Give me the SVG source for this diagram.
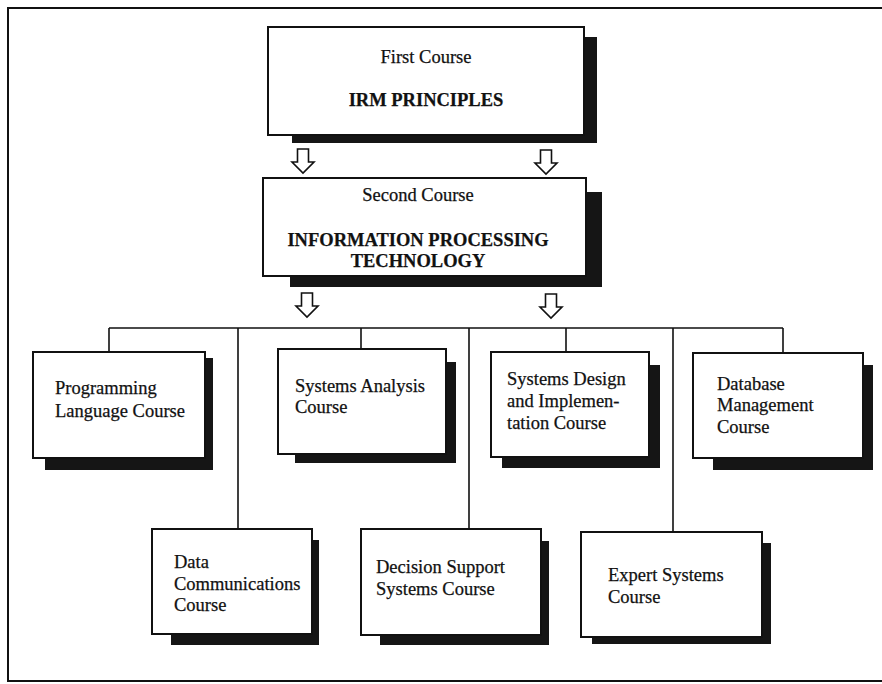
<svg xmlns="http://www.w3.org/2000/svg" xmlns:xlink="http://www.w3.org/1999/xlink" width="882" height="684" viewBox="0 0 882 684">
<style>
.box{fill:#fff;stroke:#111;stroke-width:2}
.sh{fill:#151515}
.ln{stroke:#111;stroke-width:1.6;fill:none}
.arr{fill:#fff;stroke:#111;stroke-width:1.6;stroke-linejoin:miter}
.t{font-family:"Liberation Serif","Times New Roman",serif;font-size:18.5px;fill:#111;stroke:#111;stroke-width:0.25}
.c{text-anchor:middle}
.b{font-weight:bold}
</style>
<defs>
<path id="ar" d="M-5.5,0 h11 v13 h5.5 l-11,11 l-11,-11 h5.5 z"/>
</defs>
<rect x="8" y="8" width="900" height="673" fill="none" stroke="#111" stroke-width="2"/>
<g id="connectors">
<use xlink:href="#ar" class="arr" x="303" y="149"/>
<use xlink:href="#ar" class="arr" x="546" y="150"/>
<use xlink:href="#ar" class="arr" x="307" y="293"/>
<use xlink:href="#ar" class="arr" x="551" y="294"/>
<path class="ln" d="M109,328 H783 M109,328 V352 M238,328 V529 M361,328 V349 M469,328 V529 M566,328 V352 M673,328 V532 M783,328 V353"/>
</g>
<g id="first">
<rect class="sh" x="292" y="37" width="305" height="106"/>
<rect class="box" x="268" y="27" width="316" height="108"/>
<text class="t c" x="426" y="63" font-size="17">First Course</text>
<text class="t c b" x="426" y="106" font-size="16">IRM PRINCIPLES</text>
</g>
<g id="second">
<rect class="sh" x="290" y="192" width="312" height="95"/>
<rect class="box" x="263" y="178" width="323" height="98"/>
<text class="t c" x="418" y="201" font-size="18">Second Course</text>
<text class="t c b" x="418" y="246" font-size="18.5">INFORMATION PROCESSING</text>
<text class="t c b" x="418" y="267" font-size="18.5">TECHNOLOGY</text>
</g>
<g id="programming">
<rect class="sh" x="45" y="358" width="168" height="112"/>
<rect class="box" x="33" y="352" width="172" height="106"/>
<text class="t" x="55" y="394">Programming</text>
<text class="t" x="55" y="417">Language Course</text>
</g>
<g id="analysis">
<rect class="sh" x="295" y="362" width="161" height="101"/>
<rect class="box" x="278" y="349" width="168" height="105"/>
<text class="t" x="295" y="392">Systems Analysis</text>
<text class="t" x="295" y="413">Course</text>
</g>
<g id="design">
<rect class="sh" x="502" y="365" width="158" height="103"/>
<rect class="box" x="491" y="352" width="158" height="105"/>
<text class="t" x="507" y="385">Systems Design</text>
<text class="t" x="507" y="407">and  Implemen-</text>
<text class="t" x="507" y="429">tation Course</text>
</g>
<g id="database">
<rect class="sh" x="713" y="365" width="160" height="105"/>
<rect class="box" x="693" y="353" width="170" height="105"/>
<text class="t" x="717" y="390">Database</text>
<text class="t" x="717" y="411">Management</text>
<text class="t" x="717" y="433">Course</text>
</g>
<g id="datacomm">
<rect class="sh" x="171" y="540" width="148" height="105"/>
<rect class="box" x="152" y="529" width="160" height="105"/>
<text class="t" x="174" y="568">Data</text>
<text class="t" x="174" y="590">Communications</text>
<text class="t" x="174" y="611">Course</text>
</g>
<g id="decision">
<rect class="sh" x="380" y="541" width="169" height="104"/>
<rect class="box" x="361" y="529" width="180" height="106"/>
<text class="t" x="376" y="573">Decision Support</text>
<text class="t" x="376" y="595">Systems Course</text>
</g>
<g id="expert">
<rect class="sh" x="592" y="543" width="179" height="101"/>
<rect class="box" x="581" y="532" width="181" height="105"/>
<text class="t" x="608" y="581">Expert Systems</text>
<text class="t" x="608" y="603">Course</text>
</g>
</svg>
